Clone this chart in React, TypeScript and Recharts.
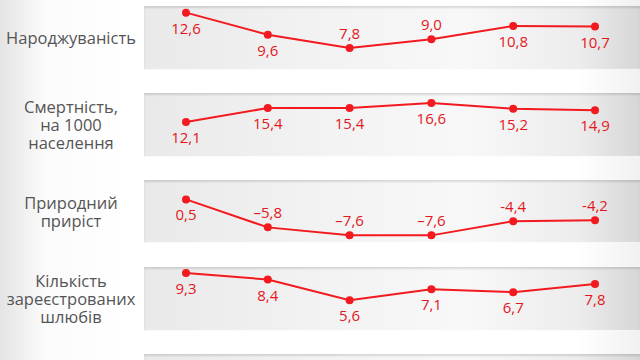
import { LineChart, Line, XAxis, YAxis, LabelList } from "recharts";

const periods = ["I", "II", "III", "IV", "V", "VI"];

const birthRate = [12.6, 9.6, 7.8, 9.0, 10.8, 10.7];
const birthLabels = ["12,6", "9,6", "7,8", "9,0", "10,8", "10,7"];

const deathRate = [12.1, 15.4, 15.4, 16.6, 15.2, 14.9];
const deathLabels = ["12,1", "15,4", "15,4", "16,6", "15,2", "14,9"];

const naturalGrowth = [0.5, -5.8, -7.6, -7.6, -4.4, -4.2];
const growthLabels = ["0,5", "–5,8", "–7,6", "–7,6", "-4,4", "-4,2"];

const marriages = [9.3, 8.4, 5.6, 7.1, 6.7, 7.8];
const marriageLabels = ["9,3", "8,4", "5,6", "7,1", "6,7", "7,8"];

const RED = "#f21a1f";
const LABEL_RED = "#e3171d";
const FONT = "'Open Sans', sans-serif";

// -1 = label above the point, 1 = below
const rows = [
  { title: ["Народжуваність"], values: birthRate, labels: birthLabels, sides: [1, 1, -1, -1, 1, 1], top: 6, height: 64, domain: [4.81, 13.5] },
  { title: ["Смертність,", "на 1000", "населення"], values: deathRate, labels: deathLabels, sides: [1, 1, 1, 1, 1, 1], top: 93, height: 64, domain: [3.9, 18.92] },
  { title: ["Природний", "приріст"], values: naturalGrowth, labels: growthLabels, sides: [1, -1, -1, -1, -1, -1], top: 180, height: 63, domain: [-9.32, 4.87] },
  { title: ["Кількість", "зареєстрованих", "шлюбів"], values: marriages, labels: marriageLabels, sides: [1, 1, 1, 1, 1, 1], top: 267, height: 64, domain: [1.45, 10.1] },
];

const bandStyle = (top: number, height: number): React.CSSProperties => ({
  position: "absolute",
  left: 144,
  top,
  width: 496,
  height,
  background: "linear-gradient(to right, #e9e9e9 0%, #f1f1f1 30%, #f8f8f8 65%, #ececec 88%, #d6d6d6 100%)",
  boxShadow: "inset 0 2px 2px rgba(0,0,0,0.12), inset 0 -1px 1px rgba(255,255,255,0.8)",
});

const makeLabel = (labels: string[], sides: number[]) => (props: any) => {
  const { x, y, index } = props;
  return (
    <text
      x={x}
      y={y + sides[index] * 15}
      textAnchor="middle"
      dominantBaseline="central"
      fill={LABEL_RED}
      fontSize={15}
      fontFamily={FONT}
    >
      {labels[index]}
    </text>
  );
};

export default function App() {
  return (
    <div
      style={{
        position: "fixed",
        left: 0,
        top: 0,
        width: 640,
        height: 360,
        overflow: "hidden",
        background: "linear-gradient(to right, #e4e4e4 0%, #fbfbfb 7%, #ffffff 20%, #ffffff 90%, #f1f1f1 100%)",
        fontFamily: FONT,
      }}
    >
      {rows.map((row, i) => {
        const data = periods.map((p, j) => ({ period: p, value: row.values[j] }));
        return (
          <div key={i}>
            <div style={bandStyle(row.top, row.height)} />
            <div
              style={{
                position: "absolute",
                left: 0,
                width: 142,
                top: row.top,
                height: row.height,
                display: "flex",
                flexDirection: "column",
                justifyContent: "center",
                alignItems: "center",
                textAlign: "center",
                color: "#555",
                fontSize: 16.5,
                lineHeight: "18px",
              }}
            >
              {row.title.map((t) => (
                <div key={t}>{t}</div>
              ))}
            </div>
            <div style={{ position: "absolute", left: 144, top: row.top }}>
              <LineChart
                width={496}
                height={row.height}
                data={data}
                margin={{ top: 0, right: 45, bottom: 0, left: 42 }}
                style={{ overflow: "visible" }}
              >
                <XAxis dataKey="period" hide />
                <YAxis hide domain={row.domain} />
                <Line
                  dataKey="value"
                  stroke={RED}
                  strokeWidth={2}
                  dot={{ r: 4, fill: RED, stroke: RED, strokeWidth: 0 }}
                  isAnimationActive={false}
                >
                  <LabelList dataKey="value" content={makeLabel(row.labels, row.sides)} />
                </Line>
              </LineChart>
            </div>
          </div>
        );
      })}
      <div style={bandStyle(354, 30)} />
    </div>
  );
}
